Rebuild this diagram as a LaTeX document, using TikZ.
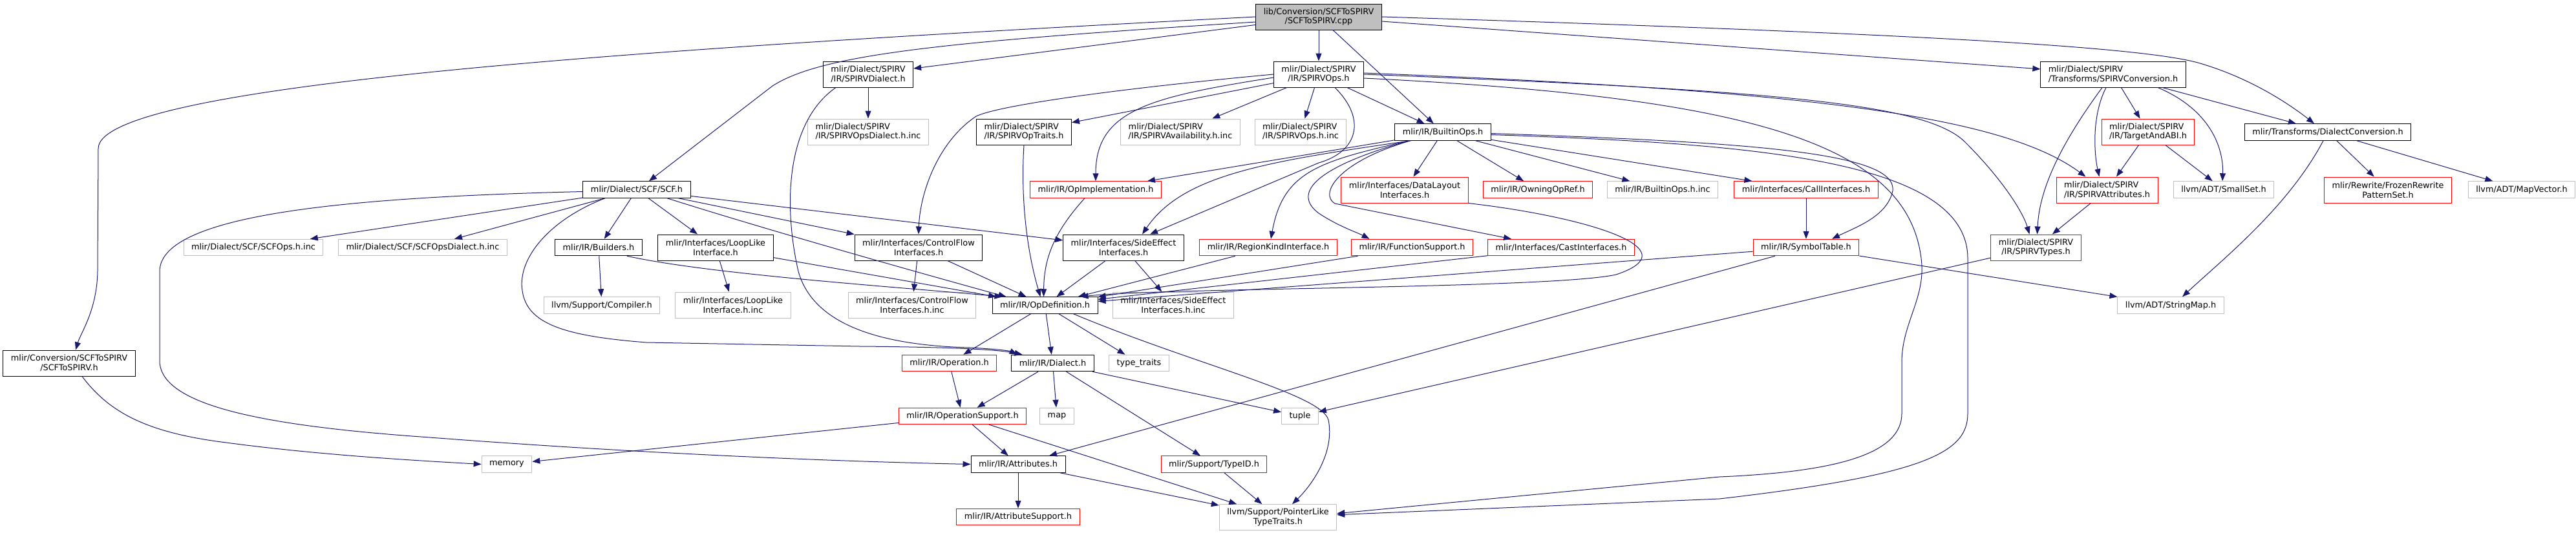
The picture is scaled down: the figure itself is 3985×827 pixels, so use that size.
\documentclass[tikz,border=0pt]{standalone}
\usepackage{fontspec}
\setmainfont{DejaVu Sans}
\usetikzlibrary{arrows.meta}
\definecolor{edgeblue}{HTML}{191970}
\definecolor{boxgray}{HTML}{BFBFBF}
\definecolor{boxred}{HTML}{FF0000}

\begin{document}
\begin{tikzpicture}[x=1pt, y=-1pt,
  every node/.style={font=\fontsize{12.85}{14.7}\selectfont, draw, line width=1pt, inner xsep=12pt, inner ysep=3pt, minimum height=25.5pt, align=center},
  two/.style={minimum height=40pt},
  hdr/.style={draw=black},
  sys/.style={draw=boxgray},
  trunc/.style={draw=boxred},
  dep/.style={draw=edgeblue, line width=1pt, -{Triangle[length=12pt, width=9pt]}}]
  \useasboundingbox (0,0) rectangle (3985,827);

  \node[hdr, two, fill=boxgray] (root) at (2040,26) {lib/Conversion/SCFToSPIRV\\/SCFToSPIRV.cpp};
  \node[hdr, two, align=left] (spvdialect) at (1343,115) {mlir/Dialect/SPIRV\\/IR/SPIRVDialect.h};
  \node[hdr, two] (spvops) at (2040,115) {mlir/Dialect/SPIRV\\/IR/SPIRVOps.h};
  \node[hdr, two, align=left] (spvconv) at (3269,115) {mlir/Dialect/SPIRV\\/Transforms/SPIRVConversion.h};
  \node[sys, two, align=left] (spvopsdialinc) at (1343,204) {mlir/Dialect/SPIRV\\/IR/SPIRVOpsDialect.h.inc};
  \node[hdr, two, align=left] (spvoptraits) at (1584,204) {mlir/Dialect/SPIRV\\/IR/SPIRVOpTraits.h};
  \node[sys, two, align=left] (spvavailinc) at (1826,204) {mlir/Dialect/SPIRV\\/IR/SPIRVAvailability.h.inc};
  \node[sys, two, align=left] (spvopsinc) at (2012,204) {mlir/Dialect/SPIRV\\/IR/SPIRVOps.h.inc};
  \node[hdr] (builtinops) at (2232,204.5) {mlir/IR/BuiltinOps.h};
  \node[trunc, two, align=left] (targetabi) at (3323,204) {mlir/Dialect/SPIRV\\/IR/TargetAndABI.h};
  \node[hdr] (dialconv) at (3601,204.5) {mlir/Transforms/DialectConversion.h};
  \node[hdr] (scfh) at (985,293.5) {mlir/Dialect/SCF/SCF.h};
  \node[trunc] (opimpl) at (1695,293.5) {mlir/IR/OpImplementation.h};
  \node[trunc, two] (datalayout) at (2173,294) {mlir/Interfaces/DataLayout\\Interfaces.h};
  \node[trunc] (owningopref) at (2379,293.5) {mlir/IR/OwningOpRef.h};
  \node[sys] (builtinopsinc) at (2572,293.5) {mlir/IR/BuiltinOps.h.inc};
  \node[trunc] (callif) at (2794,293.5) {mlir/Interfaces/CallInterfaces.h};
  \node[trunc, two, align=left] (spvattrs) at (3259.5,294) {mlir/Dialect/SPIRV\\/IR/SPIRVAttributes.h};
  \node[sys] (smallset) at (3440,293.5) {llvm/ADT/SmallSet.h};
  \node[trunc, two] (frozenrps) at (3694,294) {mlir/Rewrite/FrozenRewrite\\PatternSet.h};
  \node[sys] (mapvector) at (3901,293.5) {llvm/ADT/MapVector.h};
  \node[sys] (scfopsinc) at (392,383) {mlir/Dialect/SCF/SCFOps.h.inc};
  \node[sys] (scfopsdialinc) at (654,383) {mlir/Dialect/SCF/SCFOpsDialect.h.inc};
  \node[hdr] (builders) at (926,383) {mlir/IR/Builders.h};
  \node[hdr, two] (looplike) at (1107,383) {mlir/Interfaces/LoopLike\\Interface.h};
  \node[hdr, two] (ctrlflow) at (1421,383) {mlir/Interfaces/ControlFlow\\Interfaces.h};
  \node[hdr, two] (sideeffect) at (1738,383) {mlir/Interfaces/SideEffect\\Interfaces.h};
  \node[trunc] (regionkind) at (1962,383) {mlir/IR/RegionKindInterface.h};
  \node[trunc] (funcsupport) at (2184.5,383) {mlir/IR/FunctionSupport.h};
  \node[trunc] (castif) at (2415,383) {mlir/Interfaces/CastInterfaces.h};
  \node[trunc] (symtable) at (2794,383) {mlir/IR/SymbolTable.h};
  \node[trunc, two] (spvtypes) at (3149.5,383) {mlir/Dialect/SPIRV\\/IR/SPIRVTypes.h};
  \node[hdr, two] (scftospirvh) at (107,562) {mlir/Conversion/SCFToSPIRV\\/SCFToSPIRV.h};
  \node[sys] (compiler) at (931,472.5) {llvm/Support/Compiler.h};
  \node[sys, two] (looplikeinc) at (1134,472) {mlir/Interfaces/LoopLike\\Interface.h.inc};
  \node[sys, two] (ctrlflowinc) at (1411,472) {mlir/Interfaces/ControlFlow\\Interfaces.h.inc};
  \node[hdr] (opdef) at (1616.5,472.5) {mlir/IR/OpDefinition.h};
  \node[sys, two] (sideeffectinc) at (1815,472) {mlir/Interfaces/SideEffect\\Interfaces.h.inc};
  \node[sys] (stringmap) at (3358,472.5) {llvm/ADT/StringMap.h};
  \node[trunc] (operation) at (1468.5,562) {mlir/IR/Operation.h};
  \node[hdr] (dialect) at (1628.5,562) {mlir/IR/Dialect.h};
  \node[sys] (typetraits) at (1762,562) {type\_traits};
  \node[trunc] (opsupport) at (1489,644) {mlir/IR/OperationSupport.h};
  \node[sys] (map) at (1635,644) {map};
  \node[sys] (tuple) at (2011,644) {tuple};
  \node[sys] (memory) at (784,718.5) {memory};
  \node[hdr] (attributes) at (1575,718.5) {mlir/IR/Attributes.h};
  \node[trunc] (typeid) at (1878,718.5) {mlir/Support/TypeID.h};
  \node[trunc] (attrsupport) at (1575,800) {mlir/IR/AttributeSupport.h};
  \node[sys, two] (ptrlike) at (1977,800.7) {llvm/Support/PointerLike\\TypeTraits.h};

  \draw[dep] (root.west) .. controls (1000,75) and (152,130) .. (152,230) -- (151,420) .. controls (150,480) and (125,515) .. ([xshift=10pt]scftospirvh.north);
  \draw[dep] ([yshift=-8pt]root.west) .. controls (1450,65) and (1270,85) .. (1195,133) -- ([xshift=19pt]scfh.north);
  \draw[dep] (root) -- (spvdialect);
  \draw[dep] (root) -- (spvops);
  \draw[dep] (root) -- (builtinops);
  \draw[dep] (root) -- (spvconv);
  \draw[dep] (root.east) .. controls (2900,50) and (3300,70) .. (3400,97) .. controls (3480,120) and (3540,160) .. ([xshift=-21pt]dialconv.north);

  \draw[dep] (spvdialect) -- (spvopsdialinc);
  \draw[dep] ([xshift=-50pt]spvdialect.south) .. controls (1215,190) and (1212,320) .. (1235,420) .. controls (1260,510) and (1380,535) .. (1500,538) .. controls (1540,540) and (1562,543) .. ([xshift=-55pt]dialect.north);

  \draw[dep] (spvops) -- (spvopsinc);
  \draw[dep] (spvops) -- (builtinops);
  \draw[dep] ([yshift=-5pt]spvops.west) .. controls (1780,150) and (1695,170) .. (opimpl.north);
  \draw[dep] (spvops) -- (spvoptraits);
  \draw[dep] (spvops) -- (spvavailinc);
  \draw[dep] (spvops.west) .. controls (1700,140) and (1540,165) .. (1510,180) .. controls (1450,220) and (1423,300) .. (ctrlflow.north);
  \draw[dep] ([xshift=25pt]spvops.south) .. controls (2115,185) and (2100,235) .. (2040,252) -- ([xshift=41pt]sideeffect.north);
  \draw[dep] ([yshift=2pt]spvops.east) .. controls (2800,140) and (3100,180) .. ([xshift=-33pt]spvattrs.north);
  \draw[dep] (spvops.east) .. controls (2750,140) and (2980,160) .. (3040,220) .. controls (3100,280) and (3130,330) .. ([xshift=-10pt]spvtypes.north);
  \draw[dep] ([yshift=-6pt]spvops.east) .. controls (2700,150) and (2950,220) .. (2972,400) .. controls (2980,460) and (2942,500) .. (2942,560) -- (2942,640) .. controls (2942,700) and (2850,730) .. (2660,738) -- ([yshift=6pt]ptrlike.east);

  \draw[dep] ([yshift=-4pt]builtinops.east) .. controls (2700,222) and (3044,245) .. (3044,400) -- (3044,640) .. controls (3044,700) and (2980,735) .. (2660,772) -- ([yshift=4pt]ptrlike.east);
  \draw[dep] ([yshift=-2pt]builtinops.east) .. controls (2700,220) and (2935,235) .. (2928,295) .. controls (2920,335) and (2870,352) .. ([xshift=40pt]symtable.north);
  \draw[dep] (builtinops) -- (callif);
  \draw[dep] (builtinops) -- (builtinopsinc);
  \draw[dep] (builtinops) -- (owningopref);
  \draw[dep] (builtinops) -- (datalayout);
  \draw[dep] (builtinops) -- (opimpl);
  \draw[dep] ([xshift=-50pt]builtinops.south) .. controls (1960,250) and (1830,270) .. ([xshift=29pt]sideeffect.north);
  \draw[dep] ([xshift=-52pt]builtinops.south) .. controls (2040,250) and (1985,265) .. ([xshift=4pt]regionkind.north);
  \draw[dep] ([xshift=-52pt]builtinops.south) .. controls (2030,260) and (2000,300) .. (2040,330) .. controls (2070,350) and (2100,360) .. ([xshift=-66pt]funcsupport.north);
  \draw[dep] ([xshift=-50pt]builtinops.south) .. controls (2070,250) and (2040,300) .. (2065,315) -- ([xshift=-77pt]castif.north);

  \draw[dep] ([xshift=-17pt]spvconv.south) .. controls (3190,220) and (3155,290) .. ([xshift=2pt]spvtypes.north);
  \draw[dep] ([xshift=-11pt]spvconv.south) .. controls (3235,180) and (3240,240) .. ([xshift=-12pt]spvattrs.north);
  \draw[dep] (spvconv) -- (targetabi);
  \draw[dep] ([xshift=69pt]spvconv.south) .. controls (3420,170) and (3440,230) .. ([xshift=-2pt]smallset.north);
  \draw[dep] (spvconv) -- (dialconv);
  \draw[dep] (targetabi) -- (spvattrs);
  \draw[dep] (targetabi) -- (smallset);
  \draw[dep] (spvattrs) -- (spvtypes);
  \draw[dep] (dialconv) -- (frozenrps);
  \draw[dep] (dialconv) -- (mapvector);
  \draw[dep] ([xshift=-7pt]dialconv.south) .. controls (3540,320) and (3440,400) .. ([xshift=18pt]stringmap.north);
  \draw[dep] (spvtypes) -- (tuple);

  \draw[dep] (scfh) -- (scfopsinc);
  \draw[dep] (scfh) -- (scfopsdialinc);
  \draw[dep] ([yshift=-3pt]scfh.west) .. controls (550,305) and (247,330) .. (247,420) -- (247,560) .. controls (250,630) and (420,660) .. (665,677) .. controls (900,695) and (1200,712) .. (attributes.west);
  \draw[dep] ([xshift=-49pt]scfh.south) .. controls (850,340) and (800,400) .. (808,450) .. controls (815,500) and (870,520) .. (1000,530) -- (1330,536) .. controls (1450,537) and (1540,540) .. ([xshift=-47pt]dialect.north);
  \draw[dep] (scfh) -- (builders);
  \draw[dep] (scfh) -- (looplike);
  \draw[dep] ([xshift=47pt]scfh.south) .. controls (1200,360) and (1450,430) .. ([xshift=-60pt]opdef.north);
  \draw[dep] (scfh) -- (ctrlflow);
  \draw[dep] (scfh) -- (sideeffect);

  \draw[dep] (builders) -- (compiler);
  \draw[dep] ([xshift=44pt]builders.south) .. controls (1100,425) and (1400,445) .. ([xshift=-66pt]opdef.north);
  \draw[dep] (looplike) -- (looplikeinc);
  \draw[dep] (looplike) -- (opdef);
  \draw[dep] (ctrlflow) -- (ctrlflowinc);
  \draw[dep] (ctrlflow) -- (opdef);
  \draw[dep] (spvoptraits.south) .. controls (1578,320) and (1592,400) .. ([xshift=-7pt]opdef.north);
  \draw[dep] ([xshift=-17pt]opimpl.south) .. controls (1630,360) and (1615,400) .. ([xshift=-2pt]opdef.north);
  \draw[dep] (sideeffect) -- (opdef);
  \draw[dep] (sideeffect) -- (sideeffectinc);
  \draw[dep] (regionkind) -- (opdef);
  \draw[dep] (funcsupport) -- (opdef);
  \draw[dep] (castif) -- (opdef);
  \draw[dep] (symtable) -- (opdef);
  \draw[dep] (datalayout.south east) .. controls (2450,335) and (2620,385) .. (2500,425) .. controls (2400,447) and (1800,445) .. ([xshift=55pt]opdef.north);

  \draw[dep] (opdef) -- (operation);
  \draw[dep] (opdef) -- (dialect);
  \draw[dep] (opdef) -- (typetraits);
  \draw[dep] ([xshift=44pt]opdef.south) .. controls (1850,565) and (2045,610) .. (2055,650) .. controls (2065,700) and (2030,750) .. ([xshift=22pt]ptrlike.north);
  \draw[dep] (dialect) -- (opsupport);
  \draw[dep] (dialect) -- (map);
  \draw[dep] (dialect) -- (typeid);
  \draw[dep] (dialect) -- (tuple);
  \draw[dep] (operation) -- (opsupport);
  \draw[dep] (opsupport) -- (attributes);
  \draw[dep] (opsupport) -- (ptrlike);
  \draw[dep] (opsupport) -- (memory);
  \draw[dep] (attributes) -- (attrsupport);
  \draw[dep] (attributes) -- (ptrlike);
  \draw[dep] (typeid) -- (ptrlike);
  \draw[dep] (symtable) -- (attributes);
  \draw[dep] (symtable) -- (stringmap);
  \draw[dep] (callif) -- (symtable);
  \draw[dep] ([xshift=20pt]scftospirvh.south) .. controls (170,640) and (230,670) .. (350,685) .. controls (500,705) and (650,713) .. (memory.west);
\end{tikzpicture}
\end{document}
